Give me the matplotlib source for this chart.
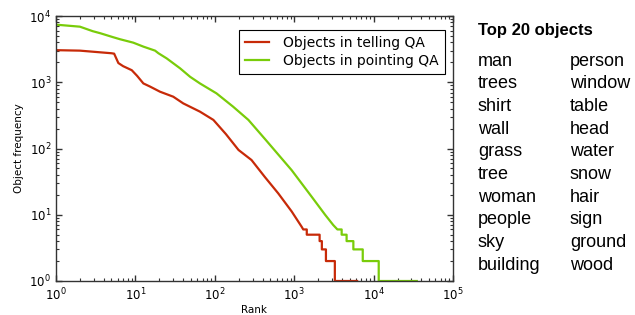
import matplotlib
matplotlib.use('Agg')
import matplotlib.pyplot as plt
from matplotlib.ticker import LogLocator, NullFormatter

# rank / frequency (log-log)
telling_rank = [1, 2, 3.6, 5.0, 5.4, 6.1, 7, 9, 10.5, 12.6, 15.3, 20.4, 30, 40, 65, 96,
                138, 199, 290, 428, 630, 930, 1240, 1300, 1440, 1440, 2090, 2090,
                2230, 2230, 2510, 2510, 3250, 3250, 6200]
telling_freq = [3050, 3000, 2830, 2740, 2700, 1950, 1750, 1520, 1250, 960, 860, 720,
                605, 480, 360, 270, 165, 95, 67, 37, 21, 11.2, 6.6, 6, 6, 5, 5, 4,
                4, 3, 3, 2, 2, 1, 1]

pointing_rank = [1, 2, 2.9, 3.6, 5.2, 6.4, 9.4, 12.6, 17.7, 19.5, 24.8, 36.6, 48.8, 65,
                 105, 170, 265, 440, 930, 1660, 2450, 3100, 3500, 3960, 3960, 4570,
                 4570, 5560, 5560, 7300, 7300, 11600, 11600, 35000]
pointing_freq = [7400, 6900, 5900, 5500, 4800, 4460, 3960, 3450, 3000, 2740, 2290,
                 1620, 1210, 960, 680, 428, 270, 134, 47, 18.7, 10, 7, 6, 6, 5, 5, 4,
                 4, 3, 3, 2, 2, 1, 1]

top_left = ['man', 'trees', 'shirt', 'wall', 'grass', 'tree', 'woman', 'people',
            'sky', 'building']
top_right = ['person', 'window', 'table', 'head', 'water', 'snow', 'hair', 'sign',
             'ground', 'wood']

red = '#c72a08'
green = '#79cc0a'

fig = plt.figure(figsize=(6.35, 3.15), dpi=100)
ax = fig.add_axes([56 / 635, 34 / 315, 397 / 635, 265 / 315])

ax.plot(telling_rank, telling_freq, color=red, lw=1.6, label='Objects in telling QA')
ax.plot(pointing_rank, pointing_freq, color=green, lw=1.6, label='Objects in pointing QA')

ax.set_xscale('log')
ax.set_yscale('log')
ax.set_xlim(1, 1e5)
ax.set_ylim(1, 1e4)
ax.xaxis.set_major_locator(LogLocator(base=10, numticks=10))
ax.xaxis.set_minor_locator(LogLocator(base=10, subs=range(2, 10), numticks=20))
ax.yaxis.set_major_locator(LogLocator(base=10, numticks=10))
ax.yaxis.set_minor_locator(LogLocator(base=10, subs=range(2, 10), numticks=20))
ax.xaxis.set_minor_formatter(NullFormatter())
ax.yaxis.set_minor_formatter(NullFormatter())

ax.tick_params(which='both', direction='in', top=True, right=True,
               labelsize=8.5, color='#333333')
ax.tick_params(which='major', length=4, width=1)
ax.tick_params(which='minor', length=2, width=0.8)
ax.tick_params(axis='x', pad=4)
for s in ax.spines.values():
    s.set_color('#333333')
    s.set_linewidth(1)

ax.set_xlabel('Rank', fontsize=7.5, labelpad=1)
ax.set_ylabel('Object frequency', fontsize=7.5, labelpad=4)

leg = ax.legend(loc='upper right', fontsize=10, fancybox=False, framealpha=1,
                edgecolor='black', handlelength=1.7, handletextpad=1.0,
                borderpad=0.45, labelspacing=0.3, bbox_to_anchor=(0.997, 0.975))
leg.get_frame().set_linewidth(0.8)

fig.text(478 / 635, 1 - 30 / 315, 'Top 20 objects', fontsize=12, fontweight='bold',
         family='Liberation Sans', va='center', ha='left')
for i, (a, b) in enumerate(zip(top_left, top_right)):
    y = 1 - (61 + i * 22.7) / 315
    fig.text(478 / 635, y, a, fontsize=13, family='Liberation Sans', va='center', ha='left')
    fig.text(570 / 635, y, b, fontsize=13, family='Liberation Sans', va='center', ha='left')

fig.savefig('out.png', dpi=100)
